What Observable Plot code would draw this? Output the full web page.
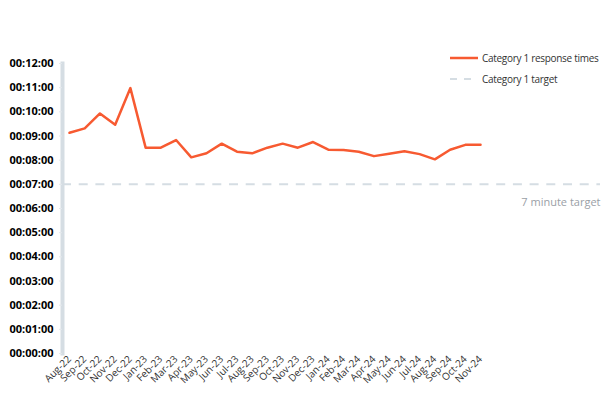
<!DOCTYPE html>
<html><head><meta charset="utf-8">
<script src="https://cdn.jsdelivr.net/npm/d3@7"></script>
<script src="https://cdn.jsdelivr.net/npm/@observablehq/plot@0.6"></script>
<style>
body{margin:0;background:#fff;font-family:"Open Sans",sans-serif;}
#wrap{position:relative;width:609px;height:405px;}
#legend{position:absolute;left:449px;top:47px;font-size:10px;letter-spacing:-0.3px;color:#333;white-space:nowrap;}
#legend div{display:flex;align-items:center;height:21px;}
#legend svg{margin-right:3px;}
</style></head>
<body><div id="wrap"><div id="chart"></div>
<div id="legend">
<div><svg width="30" height="6"><line x1="1" x2="29" y1="3" y2="3" stroke="#f75a31" stroke-width="2.5"/></svg>Category 1 response times</div>
<div><svg width="30" height="6"><line x1="1" x2="29" y1="3" y2="3" stroke="#d5dde3" stroke-width="2" stroke-dasharray="7,7"/></svg>Category 1 target</div>
</div></div>
<script>
const months = ["Aug-22","Sep-22","Oct-22","Nov-22","Dec-22","Jan-23","Feb-23","Mar-23","Apr-23","May-23","Jun-23","Jul-23","Aug-23","Sep-23","Oct-23","Nov-23","Dec-23","Jan-24","Feb-24","Mar-24","Apr-24","May-24","Jun-24","Jul-24","Aug-24","Sep-24","Oct-24","Nov-24"];
const responseTimes = ["09:08","09:19","09:56","09:28","10:59","08:31","08:31","08:50","08:07","08:17","08:41","08:21","08:17","08:31","08:41","08:31","08:45","08:26","08:25","08:21","08:10","08:16","08:22","08:15","08:02","08:26","08:38","08:38"];
const targetTime = "07:00";
const targetLabel = "7 minute target";
const yTicks = ["00:00","01:00","02:00","03:00","04:00","05:00","06:00","07:00","08:00","09:00","10:00","11:00","12:00"];

const toSec = s => { const [m, ss] = s.split(":").map(Number); return m * 60 + ss; };
const fmt = v => "00:" + String(Math.floor(v / 60)).padStart(2, "0") + ":" + String(v % 60).padStart(2, "0");
const data = months.map((m, i) => ({i, month: m, t: toSec(responseTimes[i])}));
const target = toSec(targetTime);

const chart = Plot.plot({
  width: 609, height: 405,
  marginLeft: 62, marginRight: 9, marginTop: 63, marginBottom: 52,
  style: {fontFamily: "Open Sans, sans-serif", background: "#fff"},
  x: {domain: [-0.46, 34.88]},
  y: {domain: [0, 720]},
  marks: [
    Plot.ruleY([target], {stroke: "#d5dde3", strokeWidth: 2, strokeDasharray: "9,7.7"}),
    Plot.text([targetLabel], {x: 34.88, y: target, text: d => d, frameAnchor: "right", textAnchor: "end", dy: 18, fill: "#9aa0a6", fontSize: 11}),
    Plot.frame({anchor: "left", stroke: "#d5dde3", strokeWidth: 4}),
    Plot.axisY(yTicks.map(toSec), {tickFormat: fmt, tickSize: 3, tickPadding: 6, stroke: "#e3e8ec", fill: "#000", fontWeight: "bold", fontSize: 11, label: null}),
    Plot.axisX(data.map(d => d.i), {tickFormat: i => months[i], tickRotate: -45, tickSize: 0, tickPadding: 4, fill: "#333", fontSize: 10, label: null}),
    Plot.line(data, {x: "i", y: "t", stroke: "#f75a31", strokeWidth: 2.5})
  ]
});
document.getElementById("chart").append(chart);
</script></body></html>
